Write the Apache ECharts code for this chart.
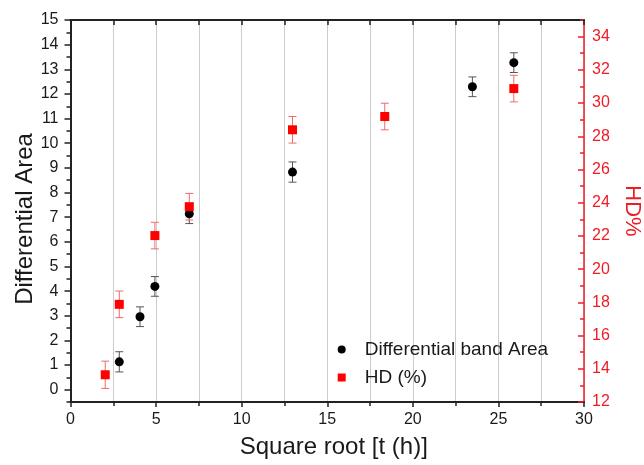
<!DOCTYPE html>
<html>
<head>
<meta charset="utf-8">
<script src="https://cdn.jsdelivr.net/npm/echarts@6/dist/echarts.min.js"></script>
<style>html,body{margin:0;padding:0;background:#fff}#c{width:644px;height:465px}</style>
</head>
<body>
<div id="c"></div>
<script>
// ---- data ----
const xArea = [2.85, 4.06, 4.93, 6.94, 12.97, 23.48, 25.9];
const areaValues = [1.13, 2.96, 4.19, 7.14, 8.83, 12.29, 13.27];
const areaErr = [0.41, 0.4, 0.4, 0.4, 0.41, 0.4, 0.4];
const xHD = [2.03, 2.85, 4.93, 6.94, 12.97, 18.36, 25.9];
const hdValues = [13.64, 17.88, 22.02, 23.76, 28.39, 29.19, 30.87];
const hdErr = [0.82, 0.8, 0.8, 0.8, 0.8, 0.8, 0.8];
const leftTicks = [0,1,2,3,4,5,6,7,8,9,10,11,12,13,14,15];
const leftMinor = [-0.5,0.5,1.5,2.5,3.5,4.5,5.5,6.5,7.5,8.5,9.5,10.5,11.5,12.5,13.5,14.5];
const rightTicks = [12,14,16,18,20,22,24,26,28,30,32,34];
const rightMinor = [13,15,17,19,21,23,25,27,29,31,33,35];
const seriesNames = ['Differential band Area', 'HD (%)'];

const FONT = 'Liberation Sans, Arial, sans-serif';
const RED = '#ee1c25';
const chart = echarts.init(document.getElementById('c'), null, {renderer: 'canvas'});

function errRender(color) {
  return function (params, api) {
    const x = api.value(0), lo = api.value(1), hi = api.value(2);
    const p1 = api.coord([x, lo]), p2 = api.coord([x, hi]);
    const w = 4;
    const st = {stroke: color, lineWidth: 1};
    return {type: 'group', children: [
      {type: 'line', shape: {x1: p1[0], y1: p1[1], x2: p2[0], y2: p2[1]}, style: st},
      {type: 'line', shape: {x1: p1[0]-w, y1: p1[1], x2: p1[0]+w, y2: p1[1]}, style: st},
      {type: 'line', shape: {x1: p2[0]-w, y1: p2[1], x2: p2[0]+w, y2: p2[1]}, style: st}
    ]};
  };
}

const areaPts = xArea.map((x, i) => [x, areaValues[i]]);
const hdPts = xHD.map((x, i) => [x, hdValues[i]]);
const areaErrData = xArea.map((x, i) => [x, areaValues[i] - areaErr[i], areaValues[i] + areaErr[i]]);
const hdErrData = xHD.map((x, i) => [x, hdValues[i] - hdErr[i], hdValues[i] + hdErr[i]]);

const gridRect = {left: 70.5, right: 60, top: 20, bottom: 63, containLabel: false, outerBoundsMode: 'none'};

const option = {
  animation: false,
  textStyle: {fontFamily: FONT},
  grid: [Object.assign({}, gridRect), Object.assign({}, gridRect)],
  legend: {
    orient: 'vertical', left: 332.7, top: 335, itemGap: 9,
    itemWidth: 8, itemHeight: 8,
    data: [{name: seriesNames[0], icon: 'circle'}, {name: seriesNames[1], icon: 'rect'}],
    textStyle: {fontSize: 19, color: '#1a1a1a', fontFamily: FONT, padding: [0, 0, 0, 14]}
  },
  xAxis: [{
    gridIndex: 0, type: 'value', min: 0, max: 30, interval: 5, position: 'bottom',
    name: 'Square root [t (h)]', nameLocation: 'middle', nameGap: 33,
    nameTextStyle: {fontSize: 24, color: '#1a1a1a', fontFamily: FONT, padding: [0, 0, 0, 13]},
    axisLine: {show: true, onZero: false, lineStyle: {color: '#222', width: 2}},
    axisTick: {show: true, inside: false, length: 5, lineStyle: {color: '#222', width: 1.5}},
    minorTick: {show: true, splitNumber: 2, length: 4, lineStyle: {color: '#222', width: 1.5}},
    axisLabel: {fontSize: 16, color: '#1a1a1a', margin: 10, fontFamily: FONT},
    splitLine: {show: true, lineStyle: {color: '#cccccc', width: 1}},
    minorSplitLine: {show: true, lineStyle: {color: '#cccccc', width: 1}}
  }, {
    gridIndex: 0, type: 'value', min: 0, max: 30, interval: 2.5, position: 'top',
    axisLine: {show: true, onZero: false, lineStyle: {color: '#222', width: 2}},
    axisTick: {show: true, inside: true, length: 5, lineStyle: {color: '#222', width: 1.5}},
    axisLabel: {show: false}, splitLine: {show: false}
  }, {
    gridIndex: 1, type: 'value', min: 0, max: 30, show: false
  }],
  yAxis: [{
    gridIndex: 0, type: 'value', min: -0.5, max: 15, position: 'left',
    name: 'Differential Area', nameLocation: 'middle', nameGap: 33, nameRotate: 90,
    nameMoveOverlap: false,
    nameTextStyle: {fontSize: 24, color: '#1a1a1a', fontFamily: FONT, padding: [0, 16, 0, 0]},
    axisLine: {show: true, onZero: false, lineStyle: {color: '#222', width: 2}},
    axisTick: {show: true, length: 6, customValues: leftTicks, lineStyle: {color: '#222', width: 1.5}},
    axisLabel: {fontSize: 16, color: '#1a1a1a', margin: 12, customValues: leftTicks, fontFamily: FONT},
    splitLine: {show: false}
  }, {
    gridIndex: 0, type: 'value', min: 12, max: 35, position: 'right',
    name: 'HD%', nameLocation: 'middle', nameGap: 37, nameRotate: -90,
    nameTextStyle: {fontSize: 22, color: RED, fontFamily: FONT},
    axisLine: {show: true, onZero: false, lineStyle: {color: RED, width: 1.5}},
    axisTick: {show: true, inside: true, length: 6, customValues: rightTicks, lineStyle: {color: RED, width: 1.5}},
    axisLabel: {fontSize: 16, color: RED, margin: 8, customValues: rightTicks, fontFamily: FONT},
    splitLine: {show: false}
  }, {
    gridIndex: 1, type: 'value', min: -0.5, max: 15, position: 'left',
    axisLine: {show: false},
    axisTick: {show: true, length: 4, customValues: leftMinor, lineStyle: {color: '#222', width: 1.5}},
    axisLabel: {show: false}, splitLine: {show: false}
  }, {
    gridIndex: 1, type: 'value', min: 12, max: 35, position: 'right',
    axisLine: {show: false},
    axisTick: {show: true, inside: true, length: 4, customValues: rightMinor, lineStyle: {color: RED, width: 1.5}},
    axisLabel: {show: false}, splitLine: {show: false}
  }],
  series: [{
    type: 'custom', name: 'areaErr', xAxisIndex: 0, yAxisIndex: 0, silent: true,
    renderItem: errRender('#555555'), encode: {x: 0, y: [1, 2]}, data: areaErrData, z: 2
  }, {
    type: 'custom', name: 'hdErr', xAxisIndex: 0, yAxisIndex: 1, silent: true,
    renderItem: errRender('#f06a6a'), encode: {x: 0, y: [1, 2]}, data: hdErrData, z: 2
  }, {
    type: 'scatter', name: seriesNames[0], xAxisIndex: 0, yAxisIndex: 0,
    symbol: 'circle', symbolSize: 9, itemStyle: {color: '#000', opacity: 1},
    data: areaPts, z: 3
  }, {
    type: 'scatter', name: seriesNames[1], xAxisIndex: 0, yAxisIndex: 1,
    symbol: 'rect', symbolSize: 9, itemStyle: {color: '#ff0000', opacity: 1},
    data: hdPts, z: 3
  }]
};
chart.setOption(option);
</script>
</body>
</html>
